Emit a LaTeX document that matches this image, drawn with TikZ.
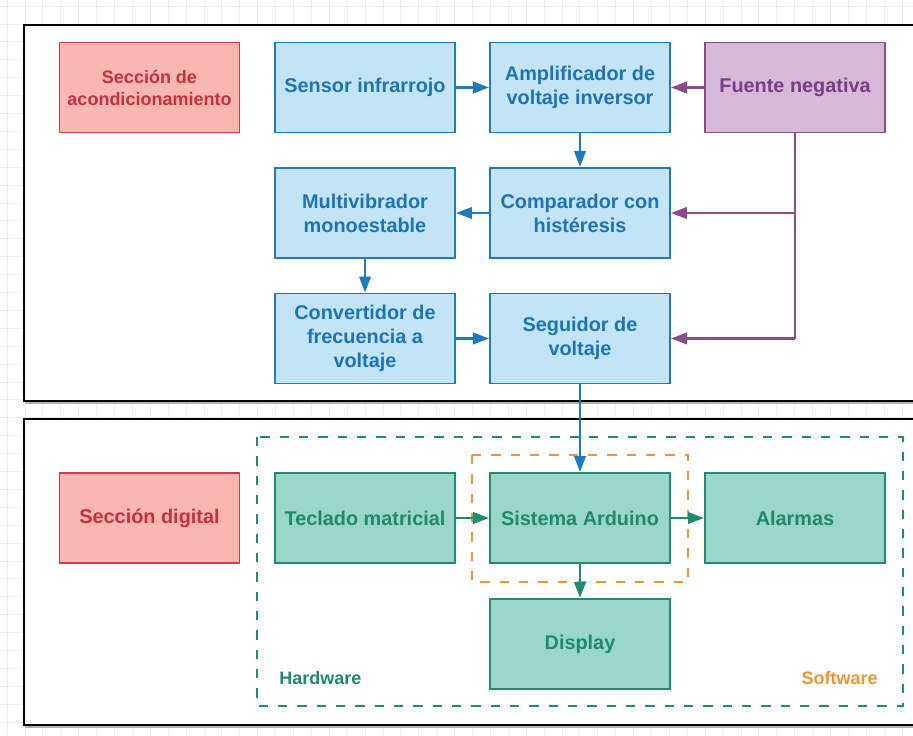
\documentclass[tikz,border=0pt]{standalone}
\usepackage{fontspec}
\setmainfont{Liberation Sans}
\usetikzlibrary{arrows.meta}

\definecolor{gridc}{HTML}{EEEEEE}
\definecolor{shadowc}{HTML}{B0B0B0}
\definecolor{bfill}{HTML}{C3E4F6}
\definecolor{bline}{HTML}{1F7BBF}
\definecolor{btext}{HTML}{1B74B6}
\definecolor{pfill}{HTML}{D5B9D6}
\definecolor{pline}{HTML}{8B4C8C}
\definecolor{ptext}{HTML}{7A3C87}
\definecolor{rfill}{HTML}{F8B7B1}
\definecolor{rline}{HTML}{D23D4C}
\definecolor{rtext}{HTML}{C8303F}
\definecolor{gfill}{HTML}{9AD6C9}
\definecolor{gline}{HTML}{218B70}
\definecolor{gtext}{HTML}{1E8A6C}
\definecolor{oline}{HTML}{F0972F}

\tikzset{
  blk/.style={rectangle, draw, line width=1.4pt, minimum width=135pt, minimum height=67.5pt,
    align=center, inner sep=2pt, font=\bfseries\fontsize{14.9}{18}\selectfont},
  bluebox/.style={blk, fill=bfill, draw=bline, text=btext},
  purplebox/.style={blk, fill=pfill, draw=pline, text=ptext},
  redbox/.style={blk, fill=rfill, draw=rline, text=rtext},
  greenbox/.style={blk, fill=gfill, draw=gline, text=gtext},
  conn/.style={line width=2.1pt, -{Triangle[length=12pt,width=8.5pt]}},
  bconn/.style={conn, draw=bline},
  pconn/.style={conn, draw=pline},
  gconn/.style={conn, draw=gline},
  frame/.style={draw=black, line width=2pt, fill=white},
  zone/.style={line width=2pt, dash pattern=on 7pt off 7.5pt},
  tag/.style={font=\bfseries\fontsize{13.5}{16}\selectfont, inner sep=0pt}
}

\begin{document}
\begin{tikzpicture}[x=0.75pt, y=-0.75pt]
\useasboundingbox (0,0) rectangle (913,735);
\begin{scope}
\clip (0,0) rectangle (913,735);
% background grid
\foreach \i in {0,...,51} \draw[gridc, line width=0.5pt] ({7+17.9*\i},0) -- ({7+17.9*\i},735);
\foreach \j in {0,...,41} \draw[gridc, line width=0.5pt] (0,{6+17.9*\j}) -- (913,{6+17.9*\j});
% section frames with a soft shadow
\draw[shadowc, line width=1.5pt] (25.5,26.5) rectangle (941,402.5);
\draw[shadowc, line width=1.5pt] (25.5,420.5) rectangle (941,726.5);
\draw[frame] (24,25) rectangle (940,401);
\draw[frame] (24,419) rectangle (940,725);
\end{scope}

% conditioning section
\node[redbox, font=\bfseries\fontsize{13.5}{16.5}\selectfont] (secA) at (149.5,87.5) {Sección de\\acondicionamiento};
\node[bluebox]   (sensor) at (365,87.5)   {Sensor infrarrojo};
\node[bluebox]   (ampl)   at (580,87.5)   {Amplificador de\\voltaje inversor};
\node[purplebox] (fuente) at (795,87.5)   {Fuente negativa};
\node[bluebox]   (multi)  at (365,213)    {Multivibrador\\monoestable};
\node[bluebox]   (comp)   at (580,213)    {Comparador con\\histéresis};
\node[bluebox]   (conv)   at (365,338.5)  {Convertidor de\\frecuencia a\\voltaje};
\node[bluebox]   (seg)    at (580,338.5)  {Seguidor de\\voltaje};

% digital section zones
\draw[zone, draw=gline] (257,437) rectangle (903,706);
\draw[zone, draw=oline] (472,455) rectangle (688,582);
\node[tag, text=gtext, anchor=west] (hw) at (279,678) {Hardware};
\node[tag, text=oline, anchor=east] (sw) at (878,678) {Software};

% digital section
\node[redbox]   (secD)  at (149.5,518) {Sección digital};
\node[greenbox] (tec)   at (365,518)   {Teclado matricial};
\node[greenbox] (ard)   at (580,518)   {Sistema Arduino};
\node[greenbox] (alarm) at (795,518)   {Alarmas};
\node[greenbox] (disp)  at (580,644)   {Display};

% signal chain
\draw[bconn] (sensor) -- (ampl);
\draw[bconn] (ampl) -- (comp);
\draw[bconn] (comp) -- (multi);
\draw[bconn] (multi) -- (conv);
\draw[bconn] (conv) -- (seg);
\draw[bconn] (seg) -- (ard);

% negative supply rail
\coordinate (jc) at (fuente.south |- comp.east);
\coordinate (js) at (fuente.south |- seg.east);
\draw[pconn] (fuente) -- (ampl);
\draw[line width=2.1pt, draw=pline] (fuente.south) -- (js);
\draw[pconn] (jc) -- (comp.east);
\draw[pconn] (js) -- (seg.east);

% digital connections
\draw[gconn] (tec) -- (ard);
\draw[gconn] (ard) -- (alarm);
\draw[gconn] (ard) -- (disp);
\end{tikzpicture}
\end{document}
